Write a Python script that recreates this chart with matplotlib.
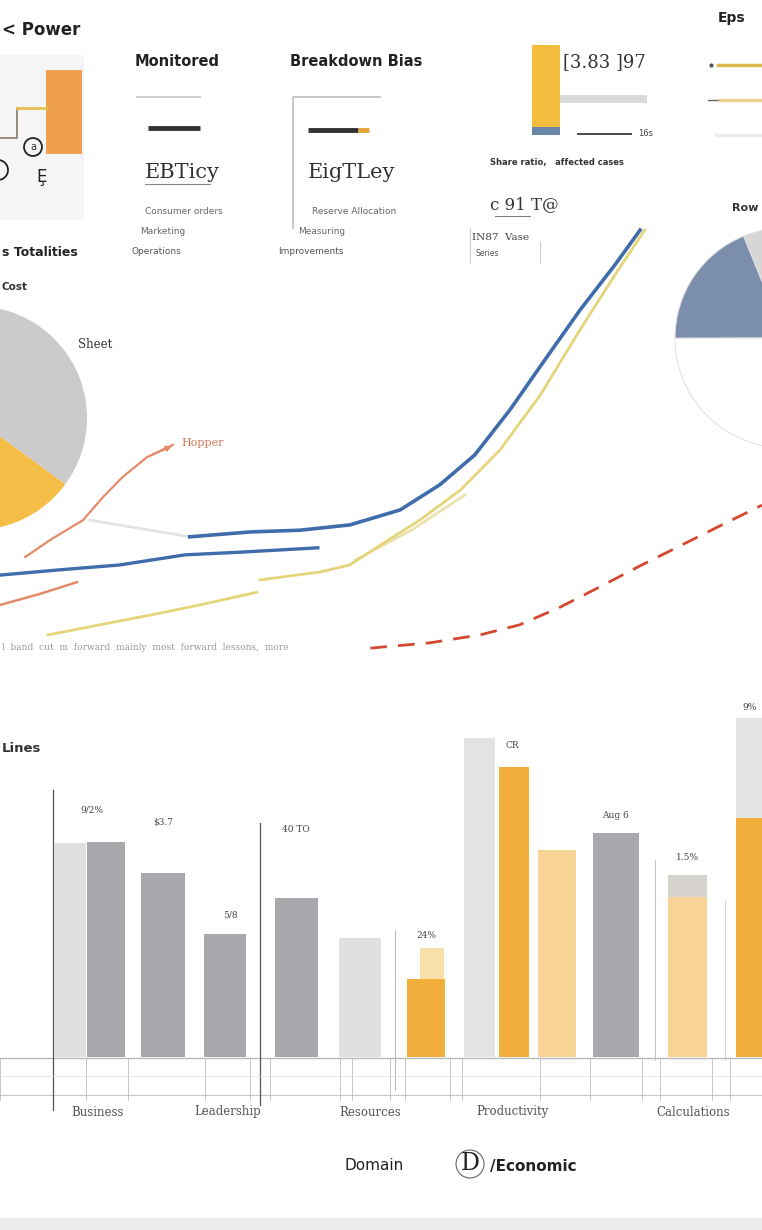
import matplotlib
matplotlib.use("Agg")
import matplotlib.pyplot as plt
from matplotlib.patches import Rectangle, Circle

plt.rcParams['font.family'] = ['DejaVu Sans']

# ---------------- data ----------------
# line chart (x: 0-100 time index, y: 0-100 index)
blue_low_x = [0, 7.9, 15.7, 24.3, 31.5, 41.7]
blue_low_y = [19.3, 20.5, 21.6, 23.9, 24.5, 25.5]
blue_up_x = [24.9, 32.8, 39.4, 45.9, 52.5, 57.7, 62.3, 66.9, 71.5, 76.1, 80.7, 84.0]
blue_up_y = [28.0, 29.1, 29.5, 30.7, 34.1, 39.8, 46.6, 56.8, 68.2, 79.5, 89.8, 97.7]
yel_low_x = [6.3, 13.1, 19.7, 26.2, 33.7]
yel_low_y = [5.7, 8.0, 10.2, 12.5, 15.4]
yel_up_x = [34.1, 42.0, 45.9, 49.9, 55.1, 60.4, 65.6, 70.9, 76.1, 80.7, 84.6]
yel_up_y = [18.2, 20.0, 21.6, 26.1, 31.8, 38.6, 47.7, 60.2, 75.0, 87.5, 97.7]
yel_faint_x = [46.6, 54.0, 61.0]
yel_faint_y = [22.7, 29.5, 37.5]
org_low_x = [0, 5.2, 10.1]
org_low_y = [12.5, 15.0, 17.7]
org_up_x = [3.3, 6.6, 10.9, 13.5, 16.1, 19.3, 22.7]
org_up_y = [23.4, 27.3, 31.8, 37.0, 41.6, 46.1, 48.9]
grey_x = [11.8, 24.9]
grey_y = [31.8, 28.0]
red_x = [48.6, 56.4, 63.0, 68.2, 73.5, 78.7, 84.0, 89.2, 94.5, 100]
red_y = [2.7, 3.9, 5.7, 8.0, 12.0, 16.6, 21.4, 25.9, 30.5, 35.2]

# pies
pie_left_vals = [20.5, 79.5]
pie_right_vals = [11.7, 18.9, 69.4]

# bars
bar_vals = [214, 215, 184, 123, 159, 119, 78, 319, 290, 207, 224, 160, 239]
bar_caps = [0, 0, 0, 0, 0, 0, 0, 0, 0, 0, 0, 22, 100]
narrow_cap_val = 31
bar_labels = ["9/2%", "$3.7", "5/8", "40 TO", "", "24%", "", "CR", "", "Aug 6", "1.5%", "9%"]
categories = ["Business", "Leadership", "Resources", "Productivity", "Calculations"]

# mini bar panel
mini_stack = [82, 8]
mini_hbars = [87, 55]

# ---------------- layout / styles ----------------
W, H = 762, 1230
fig = plt.figure(figsize=(W / 100, H / 100), dpi=100)
fig.patch.set_facecolor("white")


def fx(px):
    return px / W


def fy(py):
    return 1 - py / H


bg = fig.add_axes([0, 0, 1, 1], zorder=0)
bg.set_xlim(0, W)
bg.set_ylim(H, 0)
bg.axis("off")

fg = fig.add_axes([0, 0, 1, 1], zorder=10)
fg.set_xlim(0, W)
fg.set_ylim(H, 0)
fg.axis("off")
fg.patch.set_alpha(0)

# background accents
bg.add_patch(Rectangle((0, 55), 84, 165, color="#f5f5f5", lw=0))
bg.add_patch(Rectangle((0, 1218), W, 12, color="#ececec", lw=0))

# ---------- top-left snippet ----------
bg.add_patch(Rectangle((46, 70), 36, 84, color="#eea04e", lw=0))
bg.plot([0, 17, 17], [138, 138, 108], color="#8a7a6a", lw=1.2)
bg.plot([17, 46], [108, 108], color="#e6c050", lw=2)
bg.add_patch(Circle((33, 147), 9, fill=False, ec="#222", lw=1.3))
bg.add_patch(Circle((-2, 170), 10, fill=False, ec="#222", lw=1.3))
fg.text(33, 147, "a", fontsize=7, ha="center", va="center", color="#333")
fg.text(42, 177, "Ȩ", fontsize=12, ha="center", va="center", color="#222")
fg.text(2, 30, "< Power", fontsize=12, fontweight="bold", ha="left", va="center", color="#222")

# ---------- Monitored panel ----------
fg.text(135, 62, "Monitored", fontsize=10.5, fontweight="bold", ha="left", va="center", color="#222")
bg.plot([137, 200], [97, 97], color="#cfcfcf", lw=1.5)
bg.plot([148, 200], [128, 128], color="#333333", lw=3.5, solid_capstyle="butt")
fg.text(145, 172, "EBTicy", fontsize=15, family="DejaVu Serif", ha="left", va="center", color="#333")
bg.plot([145, 210], [184, 184], color="#888", lw=0.8)
fg.text(145, 212, "Consumer orders", fontsize=6.5, ha="left", va="center", color="#666")
fg.text(140, 232, "Marketing", fontsize=6.5, ha="left", va="center", color="#666")
fg.text(132, 252, "Operations", fontsize=6.5, ha="left", va="center", color="#555")

# ---------- Breakdown panel ----------
fg.text(290, 62, "Breakdown Bias", fontsize=10.5, fontweight="bold", ha="left", va="center", color="#222")
bg.plot([293, 293, 380], [228, 97, 97], color="#bdbdbd", lw=1.2)
bg.plot([308, 358], [130, 130], color="#333333", lw=3.5, solid_capstyle="butt")
bg.plot([358, 369], [130, 130], color="#e2a535", lw=3.5, solid_capstyle="butt")
fg.text(308, 172, "EigTLey", fontsize=15, family="DejaVu Serif", ha="left", va="center", color="#333")
fg.text(312, 212, "Reserve Allocation", fontsize=6.5, ha="left", va="center", color="#666")
fg.text(298, 232, "Measuring", fontsize=6.5, ha="left", va="center", color="#666")
fg.text(278, 252, "Improvements", fontsize=6.5, ha="left", va="center", color="#555")

# ---------- mini bar panel ----------
mini = fig.add_axes([fx(520), fy(135), fx(140), 90 / H], zorder=2)
mini.set_xlim(520, 660)
mini.set_ylim(0, 90)
mini.axis("off")
mini.patch.set_alpha(0)
mini.bar([546], [mini_stack[1]], width=28, color="#6a86a8", lw=0)
mini.bar([546], [mini_stack[0]], bottom=[mini_stack[1]], width=28, color="#f2bd3e", lw=0)
mini.barh([36], [mini_hbars[0]], left=560, height=8, color="#d9d9d9", lw=0)
mini.barh([1], [mini_hbars[1]], left=577, height=3, color="#4d4d4d", lw=0)
fg.text(638, 134, "16s", fontsize=6, ha="left", va="center", color="#444")
fg.text(563, 62, "[3.83 ]97", fontsize=13, family="DejaVu Serif", ha="left", va="center", color="#333")
fg.text(490, 162, "Share ratio,   affected cases", fontsize=6, fontweight="bold", ha="left", va="center", color="#333")
fg.text(490, 205, "c 91 T@", fontsize=12, family="DejaVu Serif", ha="left", va="center", color="#333")
bg.plot([495, 530], [216, 216], color="#777", lw=0.7)
fg.text(472, 237, "IN87  Vase", fontsize=7.5, family="DejaVu Serif", ha="left", va="center", color="#444")
fg.text(476, 253, "Series", fontsize=5.5, ha="left", va="center", color="#555")
bg.plot([470, 470], [228, 262], color="#ccc", lw=0.8)
bg.plot([540, 540], [242, 262], color="#ccc", lw=0.8)

# ---------- top-right legend ----------
fg.text(718, 18, "Eps", fontsize=10, fontweight="bold", ha="left", va="center", color="#222")
bg.plot([711], [65], marker="o", ms=2, color="#555")
bg.plot([718, 762], [65, 65], color="#dbb94e", lw=2.5)
bg.plot([708, 720], [100, 100], color="#666", lw=1)
bg.plot([720, 762], [100, 100], color="#e8d08e", lw=2.5)
bg.plot([716, 762], [135, 135], color="#ececec", lw=2.5)
fg.text(732, 208, "Row", fontsize=8, fontweight="bold", ha="left", va="center", color="#333")

# ---------- pies ----------
r_l = 112
pl = fig.add_axes([fx(-25 - r_l), fy(418 + r_l), 2 * r_l / W, 2 * r_l / H], zorder=1)
pl.pie(pie_left_vals, colors=["#f4bd45", "#cbcbcb"], startangle=-110, counterclock=True,
       wedgeprops=dict(linewidth=0))
pl.set_aspect("auto")
pl.set_xlim(-1, 1)
pl.set_ylim(-1, 1)
pl.axis("off")

r_r = 110
pr = fig.add_axes([fx(785 - r_r), fy(338 + r_r), 2 * r_r / W, 2 * r_r / H], zorder=1)
pr.pie(pie_right_vals, colors=["#d6d6d6", "#7b8eab", "#ffffff"], startangle=70, counterclock=True,
       wedgeprops=dict(linewidth=0.8, edgecolor="#e2e2e2"))
pr.set_aspect("auto")
pr.set_xlim(-1, 1)
pr.set_ylim(-1, 1)
pr.axis("off")

fg.text(2, 287, "Cost", fontsize=7.5, fontweight="bold", ha="left", va="center", color="#333")
fg.text(2, 252, "s Totalities", fontsize=9, fontweight="bold", ha="left", va="center", color="#222")
fg.text(78, 345, "Sheet", fontsize=8.5, family="DejaVu Serif", ha="left", va="center", color="#333")

# ---------- line chart ----------
lc = fig.add_axes([0, fy(660), 1, 440 / H], zorder=3)
lc.set_xlim(0, 100)
lc.set_ylim(0, 100)
lc.axis("off")
lc.patch.set_alpha(0)
lc.plot(grey_x, grey_y, color="#e3e3e3", lw=2)
lc.plot(yel_faint_x, yel_faint_y, color="#ece2b0", lw=2)
lc.plot(blue_low_x, blue_low_y, color="#3f6dab", lw=2.4)
lc.plot(blue_up_x, blue_up_y, color="#3f6dab", lw=2.6)
lc.plot(yel_low_x, yel_low_y, color="#e4d57a", lw=2)
lc.plot(yel_up_x, yel_up_y, color="#e4d57a", lw=2)
lc.plot(org_low_x, org_low_y, color="#e28b68", lw=1.8)
lc.plot(org_up_x, org_up_y, color="#e28b68", lw=1.6)
lc.plot(red_x, red_y, color="#d4482f", lw=2, dashes=(6, 4))
lc.annotate("", xy=(org_up_x[-1] + 0.2, org_up_y[-1]), xytext=(org_up_x[-2], org_up_y[-2]),
            arrowprops=dict(arrowstyle="-|>", color="#e28b68", lw=1.4, mutation_scale=8))
fg.text(181, 443, "Hopper", fontsize=8, family="DejaVu Serif", ha="left", va="center", color="#d07a55")
fg.text(2, 648, "l  band  cut  m  forward  mainly  most  forward  lessons,  more",
        fontsize=6.5, family="DejaVu Serif", ha="left", va="center", color="#999999")

# ---------- bar chart ----------
bar_pos = [70, 106, 163, 225, 296, 360, 426, 479, 514, 557, 616, 687, 752]
bar_w = [32, 38, 44, 42, 43, 42, 38, 31, 30, 38, 46, 39, 32]
bar_col = ["#dfdfe0", "#a9a9ad", "#a9a9ad", "#a9a9ad", "#a9a9ad", "#dfdfe0", "#f2ae3a",
           "#e3e3e3", "#f2ae3a", "#f7d496", "#a9a9ad", "#f7d496", "#f2ae3a"]
cap_col = ["#ffffff"] * 11 + ["#d6d3cf", "#e4e4e4"]

ba = fig.add_axes([0, fy(1057), 1, 340 / H], zorder=2)
ba.set_xlim(0, W)
ba.set_ylim(0, 340)
ba.axis("off")
ba.patch.set_alpha(0)
ba.bar(bar_pos, bar_vals, width=bar_w, color=bar_col, lw=0)
ba.bar(bar_pos, bar_caps, bottom=bar_vals, width=bar_w, color=cap_col, lw=0)
ba.bar([432], [narrow_cap_val], bottom=[bar_vals[6]], width=24, color="#f9e0aa", lw=0)

label_pos = [92, 163, 230, 296, 0, 426, 0, 512, 0, 615, 688, 750]
label_y = [810, 822, 915, 830, 0, 935, 0, 745, 0, 815, 858, 708]
for t, lx, ly in zip(bar_labels, label_pos, label_y):
    if t:
        fg.text(lx, ly, t, fontsize=6.5, family="DejaVu Serif", ha="center", va="center", color="#444")

# axis lines
bg.plot([0, W], [1058, 1058], color="#b8b8b8", lw=1)
bg.plot([0, W], [1095, 1095], color="#c8c8c8", lw=0.8)
for tx in [0, 53, 86, 128, 205, 250, 270, 340, 352, 390, 405, 450, 462, 540, 590, 642, 660, 712, 730]:
    bg.plot([tx, tx], [1058, 1100], color="#bdbdbd", lw=0.6)
bg.plot([53, 53], [790, 1110], color="#555", lw=0.9)
bg.plot([260, 260], [823, 1105], color="#555", lw=0.9)
bg.plot([395, 395], [930, 1090], color="#aaa", lw=0.6)
bg.plot([655, 655], [860, 1060], color="#bbb", lw=0.6)
bg.plot([725, 725], [900, 1060], color="#ccc", lw=0.6)
bg.plot([0, 762], [1076, 1076], color="#e0e0e0", lw=0.5)

fg.text(2, 748, "Lines", fontsize=9.5, fontweight="bold", ha="left", va="center", color="#333")

cat_x = [98, 228, 370, 512, 693]
for c, cx in zip(categories, cat_x):
    fg.text(cx, 1112, c, fontsize=8.5, family="DejaVu Serif", ha="center", va="center", color="#555")

fg.text(345, 1166, "Domain", fontsize=11, ha="left", va="center", color="#222")
fg.text(470, 1163, "D", fontsize=17, family="DejaVu Serif", ha="center", va="center", color="#222")
bg.add_patch(Circle((470, 1164), 14, fill=False, ec="#666", lw=0.8))
fg.text(490, 1166, "/Economic", fontsize=11, fontweight="bold", ha="left", va="center", color="#222")

fig.savefig("out.png", dpi=100, facecolor="white")
